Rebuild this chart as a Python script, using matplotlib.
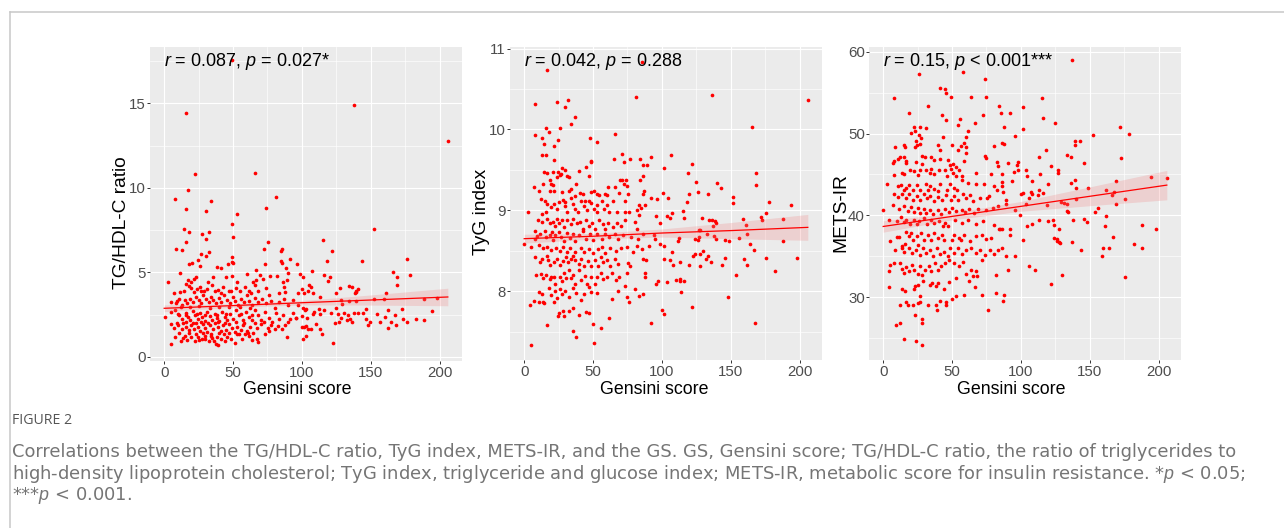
import numpy as np
import matplotlib
matplotlib.use('Agg')
import matplotlib.pyplot as plt
from matplotlib.transforms import blended_transform_factory
from matplotlib.lines import Line2D

# ---------------- data (Gensini score, marker value) ----------------
tg_hdl_pairs = [
    (16.2,14.43),(137.6,14.9),(206.3,12.75),(22.5,10.8),(65.8,10.87),(17.2,9.86),(8.2,9.33),(81.3,9.45),
    (34.1,9.23),(16.2,8.77),(30.2,8.62),(74.2,8.81),(53.2,8.46),(49.3,7.89),(18.1,7.37),(14.3,7.59),
    (32.2,7.37),(27.6,7.25),(50.3,7.1),(30.2,6.96),(152.4,7.59),(115.4,6.92),(16.2,6.78),(75.5,6.78),
    (8.5,6.36),(12.8,6.3),(72.3,6.4),(84.9,6.28),(85.4,6.36),(122,6.25),(32.2,6.19),(27.1,6.1),
    (30.2,5.97),(49.3,5.93),(73.2,5.47),(118.3,5.69),(143.4,5.67),(176.3,5.79),(49.1,5.63),(84.9,5.69),
    (91.2,5.79),(24.9,5.73),(18.1,5.49),(26.3,5.38),(20,5.53),(41.4,5.28),(38.4,5.3),(46.4,5.5),
    (50,5.57),(85.6,5.57),(96.3,5.47),(88.8,5.24),(166.4,5.0),(169.2,4.7),(169.2,4.27),(178.2,4.86),
    (107.1,5.1),(66.7,5.14),(98.7,4.88),(3.1,4.43),(48.9,17.55),
    (100.5,4.7),(49,4.78),(45.2,4.7),(60.4,4.9),(69.6,4.86),(82.1,4.78),(77,4.78),(35.5,4.72),(11.6,4.96),
    (17.1,4.53),(19.8,4.43),(21.7,4.59),(22.9,4.74),(32.1,4.43),(53.1,4.43),(64.3,4.43),(66.7,4.55),
    (71.5,4.59),(86.5,4.43),(88.9,4.57),(90.1,4.96),
    (7.2,3.8),(11.6,3.84),(14.5,3.88),(15.9,4.31),(17.9,4.19),(19.8,4.07),(21.7,3.84),(23.7,4.04),
    (26.1,4.15),(26.8,3.9),(29,3.88),(30.9,4.04),(34.5,4.27),(36.7,3.92),(39.4,3.98),(41.1,3.8),(43,4.15),
    (46.9,3.88),(48.8,3.88),(52.2,4.07),(55.1,3.88),(58.5,4.15),(61.4,3.92),(62.8,3.76),(66.2,4.27),
    (68.1,3.88),(73.7,4.07),(76.3,3.68),(83.1,3.76),(86.9,4.11),(87.4,3.84),(97.1,3.76),(99.8,4.04),(101.4,3.76),
    (4.8,3.25),(9.2,3.33),(8.7,3.17),(10.6,3.44),(12.6,3.09),(15,3.37),(16.9,3.17),(18.8,3.44),(20.8,3.25),
    (23.2,3.56),(25.1,3.37),(27.1,3.17),(28.5,3.64),(30.4,3.44),(32.4,3.25),(33.8,3.56),(35.7,3.37),
    (37.7,3.17),(39.6,3.48),(41.5,3.25),(43.5,3.64),(45.9,3.37),(47.8,3.17),(49.8,3.56),(51.7,3.29),
    (53.6,3.09),(56,3.44),(58,3.25),(59.9,3.68),(61.8,3.33),(63.8,3.09),(65.7,3.48),(68.1,3.25),(71,3.44),
    (73.9,3.17),(77.3,3.29),(80.7,2.89),(83.6,3.25),(87,3.44),(90.1,3.09),(93.7,3.37),(97.3,3.09),(100.5,2.89),
    (0.5,2.38),(5.3,2.66),(8.2,2.78),(11.1,2.5),(13,2.26),(15.5,2.62),(17.4,2.38),(18.8,2.15),(20.8,2.7),
    (22.2,2.46),(24.2,2.22),(26.1,2.58),(27.5,2.34),(29.5,2.11),(31.4,2.66),(33.3,2.42),(34.8,2.19),
    (36.7,2.54),(38.2,2.3),(40.1,2.11),(42,2.66),(44,2.38),(45.9,2.19),(47.8,2.54),(50.2,2.26),(52.2,2.78),
    (54.6,2.46),(57,2.19),(59.4,2.66),(61.4,2.34),(63.8,2.15),(65.7,2.74),(68.1,2.46),(70,2.15),(72.9,2.66),
    (76.3,2.3),(78.3,2.07),(81.2,2.58),(83.6,2.22),(86.5,2.46),(89.9,2.07),(93.7,2.62),(95.7,2.3),(100,2.42),
    (102.4,2.78),
    (4.8,1.95),(6.8,1.71),(10.1,1.87),(12.6,1.63),(14,1.99),(15.9,1.79),(17.9,1.56),(19.8,1.87),(21.3,1.67),
    (23.2,1.99),(24.6,1.79),(26.1,1.52),(28,1.95),(30,1.71),(31.4,1.48),(33.3,1.91),(35.3,1.63),(37.2,1.99),
    (39.1,1.75),(41.1,1.52),(43,1.87),(44.9,1.59),(46.9,1.95),(49.3,1.71),(51.2,1.44),(53.1,1.79),(55.6,1.56),
    (57.5,1.87),(59.9,1.52),(62.3,1.79),(64.7,1.4),(67.1,1.71),(70.5,1.95),(72.5,2.03),(75.4,1.71),(77.3,1.91),
    (80.2,1.67),(82.6,1.83),(85.5,1.67),(87.9,1.91),(91.3,2.26),(96.1,2.3),(100,1.75),(101.4,1.79),
    (7.7,1.16),(12.1,0.93),(15,1.24),(16.9,1.0),(19.3,1.16),(22.2,0.96),(24.6,1.2),(27.5,1.08),(29.5,1.24),
    (32.4,0.96),(34.3,1.24),(36.2,0.96),(38.2,1.2),(41.1,1.08),(43.5,1.32),(45.9,1.16),(48.8,1.08),(51.2,0.81),
    (54.1,1.32),(56.5,1.08),(58.9,1.36),(61.4,1.24),(63.8,1.0),(67.6,1.08),(68.1,0.85),(72.9,1.32),(75.8,1.52),
    (88.9,1.16),(100.5,1.08),(5.3,0.73),(39.1,0.69),(37.7,0.77),(30,1.04),
    (12,2.95),(19,2.92),(25,2.98),(33,2.9),(40,2.96),(47,2.92),(55,2.97),(62,2.9),
    (9,2.02),(16,2.05),(21,2.0),(27,2.06),(32,1.98),(39,2.04),(44,2.0),(52,2.05),(58,1.99),(66,2.02),
    (11,1.38),(18,1.42),(23,1.35),(28,1.4),(34,1.36),(40,1.42),(47,1.38),(53,1.35),(61,1.4),
    (14,1.1),(25,1.0),(35,1.12),(44,0.95),
    (10,2.52),(16,2.48),(24,2.55),(30,2.5),(38,2.45),(45,2.52),(56,2.55),(64,2.5),
    (105.3,4.27),(106.8,4.15),(104.3,3.88),(108.2,3.76),(116.4,4.86),(120.3,4.7),(119.3,4.51),(113.5,3.52),
    (102.9,2.85),(103.4,2.3),(108.7,2.66),(108.2,2.54),(112.6,2.81),(113,2.54),(116.4,2.78),(120.8,2.62),
    (102.9,1.83),(104.8,1.63),(106.8,1.67),(110.6,1.95),(113.5,1.67),(114.5,1.36),(102.9,1.24),(122.7,0.81),
    (123.7,1.99),(124.6,2.89),(125.1,3.8),(127.5,4.07),(128.5,3.37),(129.5,3.13),(126.6,2.54),(128.5,2.3),
    (127.1,2.07),(130.4,2.62),(132.8,2.15),(133.3,2.46),(134.8,2.26),(134.3,4.19),(136.7,4.15),(134.3,3.29),
    (136.2,2.07),(137.7,2.62),(138.6,3.76),(139.1,3.84),(139.6,3.92),(140.6,4.0),(139.6,3.33),(140.6,2.62),
    (144.4,2.62),(146.4,2.85),(146.4,2.22),(148.3,1.91),(149.3,2.03),(152.6,3.44),(154.6,2.54),(156.5,2.03),
    (159.4,3.44),(160.4,2.34),(161.3,3.8),(162.3,2.78),(162.3,1.71),(164.7,2.03),(167.6,2.46),(168.6,1.91),
    (172.5,2.85),(173.4,2.22),(176.3,2.03),(182.6,2.22),(188.4,3.41),(188.4,2.19),(194.7,2.7),(198.5,3.48),
]

tyg_pairs = [
    (16.9,10.73),(85.3,10.84),(8,10.31),(23.9,10.34),(30,10.28),(32.1,10.36),(36.7,10.15),(33.8,10.07),
    (80.9,10.4),(8,9.93),(15.5,10.02),(18.1,9.97),(25.8,10.02),(12.8,9.89),(14.3,9.82),(24.9,9.87),(22,9.8),
    (47.8,9.9),(53.1,9.84),(65.9,9.95),(13,9.68),(16,9.69),(21.3,9.62),(48.3,9.61),(48.8,9.6),(45.2,9.54),
    (65.2,9.64),(71.2,9.7),(72.7,9.6),(77,9.64),(84,9.64),(86,9.56),(88.9,9.56),(91.8,9.66),(101.4,9.53),
    (14.3,9.47),(16.4,9.46),(20.8,9.47),(24.2,9.47),(23.9,9.41),(26.1,9.44),(27.5,9.53),(27.1,9.45),(30,9.5),
    (31.4,9.43),(32.4,9.41),(40.1,9.49),(46.9,9.42),(14,9.32),(18.4,9.37),(19.3,9.33),(20.8,9.31),(18.4,9.24),
    (21.3,9.24),(27.3,9.23),(32.4,9.24),(34.3,9.27),(37.7,9.32),(40.6,9.22),(42.5,9.2),(37.2,9.18),(48.8,9.23),
    (50.7,9.24),(52.7,9.2),(54.6,9.19),(58.9,9.2),(60.9,9.29),(59.9,9.19),(66.2,9.29),(69.6,9.38),(71,9.38),
    (72.5,9.32),(73.9,9.38),(74.4,9.3),(68.6,9.22),(75.4,9.2),(73.4,9.12),(86,9.42),(84,9.38),(86.9,9.24),
    (86,9.2),(83.1,9.07),(87.9,9.07),(91.8,9.15),(96.6,9.14),(100.5,9.21),(6.8,9.29),(11.1,9.24),(12.1,9.14),
    (15,9.11),(16.9,9.08),(19.8,9.04),(21.3,9.08),(25.1,9.1),(23.7,9.02),(28,9.13),(30,9.1),(29.5,9.06),
    (30.9,8.98),(34.3,9.15),(35.7,9.08),(36.7,9.02),(39.1,8.98),(41.5,9.11),(43.5,9.05),(44.4,9.11),(45.4,9.0),
    (46.9,9.11),(48.8,9.09),(50.7,9.02),(53.1,9.07),(53.1,8.98),(56.5,9.11),(58,9.02),(60.4,9.07),(61.4,8.98),
    (64.7,9.11),(67.1,8.98),(73,8.98),(75.8,8.98),(82.1,9.0),(85,9.03),(2.9,8.98),(9.7,8.88),(13,8.96),
    (13,8.86),(15.5,8.98),(16.9,8.89),(18.8,8.84),(20.8,8.86),(22.2,8.81),(23.7,8.89),(25.6,8.84),(27.5,8.88),
    (29,8.8),(30.9,8.88),(33.8,8.83),(35.7,8.89),(38.2,8.84),(40.6,8.86),(42.5,8.77),(44.9,8.88),(46.9,8.81),
    (49.3,8.84),(51.7,8.77),(54.1,8.88),(57.5,8.83),(58.9,8.77),(60.9,8.84),(64.2,8.8),(67.6,8.84),(70.5,8.81),
    (73,8.88),(80.7,8.86),(82.1,8.77),(83.6,8.94),(96.1,8.93),(99,8.84),
    (7.7,8.74),(9.2,8.68),(8.2,8.64),(11.6,8.71),(15,8.74),(16,8.67),(18.4,8.69),(20.3,8.73),(20.8,8.63),
    (22.7,8.69),(25.6,8.73),(27.1,8.67),(29,8.62),(31.4,8.72),(33.3,8.66),(35.7,8.71),(37.2,8.62),(40.1,8.69),
    (43,8.74),(44.9,8.64),(47.8,8.71),(50.2,8.63),(53.1,8.71),(56.5,8.65),(58.5,8.71),(61.8,8.67),(65.7,8.71),
    (68.1,8.64),(72,8.69),(77.8,8.67),(82.6,8.64),(86.5,8.71),(94.2,8.69),(95.2,8.64),(101.4,8.56),
    (0,8.59),(4.8,8.55),(10.6,8.57),(14,8.53),(16.9,8.55),(19.8,8.51),(23.2,8.54),(26.1,8.5),(28.5,8.55),
    (30.9,8.49),(33.3,8.53),(37.2,8.49),(41.1,8.53),(43.5,8.49),(46.9,8.52),(49.8,8.47),(53.6,8.52),(56.5,8.55),
    (58.9,8.47),(62.3,8.53),(66.7,8.5),(70,8.54),(74.4,8.55),(78.7,8.49),(81.6,8.56),(85.5,8.52),(90.3,8.56),
    (99,8.58),(8.2,8.42),(11.6,8.36),(13,8.4),(16.4,8.44),(17.4,8.39),(18.8,8.33),(21.7,8.36),(23.7,8.4),
    (26.1,8.32),(28.5,8.37),(30.4,8.42),(31.9,8.36),(33.8,8.4),(35.3,8.44),(37.2,8.39),(39.6,8.34),(41.5,8.4),
    (43.5,8.31),(46.4,8.37),(48.8,8.31),(51.2,8.39),(53.6,8.31),(56,8.42),(57.5,8.36),(59.9,8.39),(62.3,8.31),
    (65.7,8.4),(68.1,8.34),(75.4,8.35),(76.8,8.31),(86.5,8.4),(88.4,8.39),(101.4,8.4),
    (8.7,8.2),(12.1,8.21),(14,8.17),(15.5,8.2),(18.4,8.15),(19.8,8.18),(21.7,8.18),(22.7,8.09),(26.1,8.18),
    (27.5,8.13),(29,8.22),(30.4,8.16),(32.4,8.26),(33.8,8.17),(35.7,8.2),(37.2,8.09),(39.6,8.26),(41.5,8.14),
    (44.4,8.19),(45.9,8.09),(48.8,8.18),(51.2,8.09),(53.1,8.18),(56,8.22),(57.5,8.15),(60.4,8.18),(63.8,8.22),
    (66.7,8.14),(68.6,8.18),(73.4,8.07),(74.9,8.22),(80.2,8.03),(87.4,8.22),(87.9,8.18),(96.1,8.09),(97.1,8.13),
    (10.6,7.99),(11.1,7.87),(13,7.97),(14.5,7.86),(17.9,8.04),(19.8,7.95),(22.2,8.0),(23.7,7.92),(26.1,8.03),
    (27.5,7.96),(30,8.0),(32.8,7.93),(35.7,8.04),(37.7,7.98),(41.1,7.89),(43.5,7.96),(46.9,8.05),(48.8,7.99),
    (53.1,7.98),(63.8,7.91),(68.1,8.0),(74.9,7.93),(75.8,7.87),(83.1,7.94),(86,7.96),(3.9,7.83),(7.2,7.88),
    (14,7.87),(21.7,7.87),(25.1,7.73),(28,7.75),(24.6,7.7),(29,7.69),(32.4,7.75),(35.7,7.79),(39.6,7.71),
    (44.9,7.74),(46.9,7.73),(50.2,7.6),(55.6,7.55),(61.8,7.67),(16.9,7.58),(35.7,7.51),(37.7,7.43),(50.7,7.36),
    (5.3,7.33),(92.3,7.61),(100,7.77),(101.4,7.72),
    (136.7,10.43),(205.8,10.36),(165.7,10.03),(106.8,9.68),(121.7,9.57),(118.8,9.46),(168.6,9.46),(168.6,9.31),
    (125.1,9.35),(140.1,9.34),(143,9.28),(119.8,9.2),(126.1,9.23),(133.8,9.2),(104.8,9.15),(117.9,9.1),
    (151.7,9.16),(151.7,9.09),(177.8,9.1),(193.7,9.07),(115,8.99),(107.7,8.97),(103.9,8.93),(105.8,8.91),
    (115.9,8.9),(129,8.9),(134.3,8.88),(136.7,8.88),(138.6,8.87),(139.6,8.85),(137.2,8.81),(158.9,8.89),
    (160.9,8.82),(172,8.92),(172.9,8.88),(175.8,8.97),(187.9,8.89),(127.1,8.76),(128,8.76),(132.8,8.71),
    (138.2,8.68),(139.1,8.65),(112.6,8.66),(111.6,8.62),(124.2,8.64),(126.1,8.63),(127.1,8.67),(145.9,8.63),
    (148.8,8.62),(156,8.66),(161.8,8.71),(163.8,8.59),(187.9,8.62),(107.7,8.49),(105.8,8.39),(108.2,8.32),
    (113,8.36),(119.8,8.33),(122.7,8.44),(124.2,8.46),(128,8.46),(129.9,8.5),(131.9,8.4),(133.8,8.44),
    (135.7,8.36),(128,8.31),(143.9,8.32),(145.9,8.41),(159.9,8.4),(161.8,8.32),(166.7,8.51),(175.8,8.41),
    (182.1,8.25),(198.1,8.41),(103.9,8.11),(110.1,8.14),(113,8.15),(113.5,8.13),(115.9,8.13),(114,7.99),
    (153.6,8.2),(147.8,7.93),(121.7,7.8),(167.6,7.61),
]

mets_ir_pairs = [
    (26.1,57.28),(58,57.6),(73.9,56.71),(41.1,55.57),(44.9,55.49),(45.9,54.92),(49.3,54.51),(8.2,54.35),
    (32.4,53.37),(63.8,54.51),(74.9,54.51),(84,53.37),(72.5,52.24),(85.5,52.48),(92.3,52.56),(18.8,52.48),
    (43,52.32),(45.4,51.67),(55.5,51.83),(54.6,51.1),(66.7,51.26),(87.9,50.77),(101.4,53.29),(101.9,50.61),
    (22.2,50.85),(23.2,50.28),(20.3,50.04),(27.1,50.85),(30.9,50.69),(26.1,49.88),(27.5,49.47),(23.7,49.15),
    (26.6,48.74),(61.3,50.37),(60.4,49.63),(43.5,49.55),(96.1,49.72),(86,48.9),(87.4,48.74),(80.7,48.5),
    (8.7,48.33),(15,48.58),(16,48.33),(23.2,48.41),(24.6,48.58),(39.6,48.58),(41.1,48.01),(50.2,48.66),
    (56.5,48.5),(58.5,48.9),(59.9,48.33),(59.9,47.6),(54.6,48.01),(12.1,47.19),(10.6,46.87),(8.2,46.63),
    (6.8,46.46),(16.9,46.63),(15,47.19),(16.4,46.38),(23.7,46.55),(28.5,47.28),(30.4,47.19),(28,46.3),
    (34.8,47.19),(36.7,46.79),(41.1,46.87),(47.3,46.79),(48.8,46.14),(50.7,46.3),(53.1,45.89),(58.5,46.71),
    (73.9,47.28),(74.9,47.03),(82.6,46.55),(83.6,45.98),(90.3,46.38),(97.1,46.14),(98.1,46.55),
    (7.7,44.92),(14,45.16),(15,45.0),(19.8,45.57),(22.7,45.41),(25.6,44.92),(27.1,45.49),(30.9,45.49),
    (34.8,45.73),(34.3,45.16),(36.7,45.0),(40.6,45.57),(44.9,45.49),(46.4,44.84),(49.3,45.73),(50.7,45.16),
    (53.1,44.76),(55.1,45.49),(57.5,44.76),(67.6,45.24),(78.2,45.08),(86,45.0),(86.5,44.11),(93.7,44.19),
    (95.2,45.33),(97.6,45.57),
    (2.9,43.78),(10.6,43.54),(13,43.7),(15,43.05),(16.4,43.37),(18.8,43.7),(21.3,43.13),(24.2,43.7),(26.6,43.05),
    (30.9,43.86),(32.4,43.05),(34.3,43.62),(37.2,43.21),(39.6,42.97),(41.5,43.86),(46.4,43.05),(48.8,43.86),
    (51.7,43.37),(53.6,43.05),(57.5,44.27),(61.3,43.94),(67.6,43.86),(73.4,43.86),(80.2,43.54),(82.6,43.05),
    (86,43.54),(86.9,42.89),(100,42.56),(101.9,42.72),
    (7.7,42.56),(10.6,42.24),(14,42.56),(16.4,42.07),(18.8,42.56),(21.3,41.91),(24.2,42.32),(26.6,41.83),
    (29.5,42.56),(31.9,42.07),(34.3,42.4),(37.2,41.75),(39.6,42.24),(42.5,41.91),(45.4,42.48),(49.3,41.83),
    (51.7,42.4),(54.6,41.83),(58,42.56),(59.9,42.07),(62.8,42.48),(65.2,41.75),(70,42.07),(75.4,42.07),
    (76.8,42.4),(88.9,41.91),(89.4,41.34),
    (0,40.69),(7.2,41.26),(11.6,40.77),(15,41.1),(17.9,40.53),(20.3,41.02),(22.2,40.45),(25.1,40.85),(27.1,40.28),
    (29.5,40.77),(31.4,40.28),(34.3,40.69),(36.2,40.12),(39.6,40.69),(42,40.12),(44.9,40.77),(47.8,40.37),
    (50.2,40.94),(53.1,40.53),(57,40.69),(59.4,40.45),(62.3,40.77),(66.2,40.28),(69.1,40.77),(74.4,40.61),
    (79.7,40.85),(83.1,41.18),(96.1,40.69),(99.5,40.04),
    (4.3,39.47),(10.1,39.31),(13,39.8),(15,39.15),(16.9,39.47),(19.3,38.98),(22.2,39.47),(24.2,38.9),(26.1,39.31),
    (29.5,39.63),(31.9,38.98),(34.8,39.47),(37.2,39.07),(40.6,39.31),(43.5,38.66),(44.9,39.07),(46.9,38.66),
    (52.2,39.47),(57.5,39.07),(61.8,39.47),(67.1,38.9),(72.5,39.31),(80.2,38.82),(84.5,38.33),(86,38.33),(91.8,38.33),
    (4.8,36.87),(10.1,37.36),(11.6,37.36),(13.5,36.22),(15.5,36.46),(16.9,38.01),(18.4,37.44),(20.3,37.85),
    (21.7,36.95),(24.2,37.52),(25.6,36.38),(27.5,37.85),(29.5,37.03),(32.4,37.6),(34.8,37.03),(37.2,37.85),
    (39.6,37.2),(42.5,37.6),(44.4,37.03),(49.8,37.03),(51.7,37.6),(55.1,37.28),(56.5,37.03),(58.5,37.6),
    (63.3,36.87),(67.6,37.44),(72,37.6),(74.9,37.11),(78.2,37.28),(84,38.33),(92.3,37.6),(101.9,37.03),
    (8.7,35.81),(13.5,35.98),(15,35.57),(18.8,36.06),(20.8,35.41),(23.7,35.81),(26.6,35.16),(29,35.98),
    (31.4,35.41),(34.3,35.73),(36.2,35.0),(39.1,35.98),(41.5,35.24),(44.4,35.57),(46.9,35.08),(48.8,36.06),
    (51.7,35.41),(54.1,35.98),(57,35.33),(59.9,35.73),(63.8,36.06),(67.1,35.41),(70.5,35.73),(73.9,35.16),
    (77.3,35.73),(80.7,35.24),(83.1,35.81),(86.5,36.06),(89.4,35.0),(96.1,35.0),
    (5.3,33.94),(8.2,34.11),(12.1,34.19),(14,33.45),(15,32.97),(16.9,33.62),(18.8,33.13),(20.8,33.94),
    (22.7,33.29),(25.1,32.8),(26.6,33.78),(28.5,32.64),(30.4,33.37),(33.3,33.78),(34.8,33.13),(37.7,34.19),
    (40.1,33.29),(42,33.78),(44.9,34.19),(47.8,34.59),(51.7,34.19),(55.1,33.78),(58,34.35),(59.9,32.8),
    (63.8,33.29),(65.2,32.56),(67.1,33.13),(68.1,32.56),(71.5,34.59),(82.1,32.72),(90.3,33.37),(3.9,33.13),
    (4.3,31.18),(14,30.94),(15.5,30.69),(22.2,30.94),(23.2,31.34),(25.1,31.5),(27.1,30.12),(29,31.91),
    (33.8,31.5),(35.7,31.75),(38.2,31.34),(39.6,31.75),(44,31.02),(47.8,31.83),(53.1,32.32),(62.3,32.0),(66.6,31.26),
    (12.1,28.98),(16.4,29.39),(17.9,29.07),(21.7,29.07),(25.1,29.31),(27.1,29.39),(32.4,29.07),(38.2,29.07),
    (39.1,28.41),(41.1,29.47),(45.4,29.39),(45.9,29.07),(49.8,29.8),(53.1,30.12),(58.5,30.28),(72,30.28),
    (82.1,30.45),(87.9,30.28),(86.9,29.47),(75.8,28.41),(23.2,27.77),(28,26.87),(28.5,27.36),(9.2,26.63),
    (12.1,26.79),(15,24.92),(23.7,24.68),(28,24.11),
    (137.2,58.98),(115,54.35),(116,51.91),(125.1,51.26),(172,50.77),(178.2,49.96),(152.2,49.88),(139.1,49.07),
    (139.1,48.66),(143,49.15),(117.9,48.01),(113,47.2),(133.8,47.36),(136.2,47.2),(172.9,47.03),(145.9,46.46),
    (121.7,46.06),(127.1,45.57),(127.1,45.24),(103.9,45.49),(104.8,44.84),(114,45.0),(108.2,44.19),(194.2,44.68),
    (206.3,44.51),(169.1,44.19),(136.2,43.94),(139.1,44.27),(119.8,43.86),(148.8,43.37),(140.1,43.29),(113,43.05),
    (116,42.72),(107.2,42.81),(112.6,42.48),(108.2,42.56),(161.8,43.05),(167.6,42.81),(166.2,42.48),(105.8,42.07),
    (175.8,41.99),(129,41.59),(131.4,41.5),(133.8,41.42),(140.1,41.99),(118.8,41.26),(103.4,41.34),(169.1,41.34),
    (156,40.94),(154.1,40.37),(133.3,40.53),(134.3,40.37),(161.8,39.88),(113,39.47),(119.8,39.31),(123.2,39.39),
    (138.2,39.39),(145.9,39.55),(147.8,39.23),(104.3,38.66),(108.2,38.9),(124.2,38.82),(128,38.33),(160.9,38.66),
    (187.9,38.82),(198.1,38.33),(124.2,37.28),(126.1,37.11),(126.1,36.87),(128,36.79),(128.5,36.63),(137.2,36.79),
    (167.1,37.36),(182.1,36.54),(144,35.81),(159.9,35.98),(164.2,35.98),(187.9,35.98),(158.9,35.0),(105.8,33.78),
    (110.1,33.29),(129.9,32.64),(121.7,31.59),(175.8,32.4),
]

# fitted regression line and 95% band at these Gensini scores
fit_x = [0, 50, 100, 150, 206]
tg_hdl_fit = [2.87, 3.03, 3.20, 3.36, 3.54]
tg_hdl_halfwidth = [0.20, 0.10, 0.13, 0.30, 0.52]
tyg_fit = [8.65, 8.68, 8.72, 8.75, 8.79]
tyg_halfwidth = [0.055, 0.035, 0.05, 0.10, 0.16]
mets_ir_fit = [38.64, 39.87, 41.10, 42.33, 43.70]
mets_ir_halfwidth = [0.70, 0.42, 0.60, 1.15, 1.80]

panel_ylabels = ["TG/HDL-C ratio", "TyG index", "METS-IR"]
panel_stats = [r"$r$ = 0.087, $p$ = 0.027*", r"$r$ = 0.042, $p$ = 0.288", r"$r$ = 0.15, $p$ < 0.001***"]
panel_ylims = [(-0.25, 18.34), (7.15, 11.02), (22.3, 60.6)]
panel_major = [[0, 5, 10, 15], [8, 9, 10, 11], [30, 40, 50, 60]]
panel_minor = [[2.5, 7.5, 12.5, 17.5], [7.5, 8.5, 9.5, 10.5], [25, 35, 45, 55]]
x_major = [0, 50, 100, 150, 200]
x_minor = [25, 75, 125, 175]
xlabel = "Gensini score"

caption_title = "FIGURE 2"
caption_lines = [
    "Correlations between the TG/HDL-C ratio, TyG index, METS-IR, and the GS. GS, Gensini score; TG/HDL-C ratio, the ratio of triglycerides to",
    "high-density lipoprotein cholesterol; TyG index, triglyceride and glucose index; METS-IR, metabolic score for insulin resistance. *$p$ < 0.05;",
    "***$p$ < 0.001.",
]

# ---------------- style ----------------
plt.rcParams['font.family'] = ['Liberation Sans', 'DejaVu Sans']
plt.rcParams['mathtext.fontset'] = 'custom'
plt.rcParams['mathtext.rm'] = 'Liberation Sans'
plt.rcParams['mathtext.it'] = 'Liberation Sans:italic'

W, H = 1284, 528
fig = plt.figure(figsize=(W / 100, H / 100), dpi=100)
fig.patch.set_facecolor('white')

def rect(l, r, t, b):
    return [l / W, 1 - b / H, (r - l) / W, (b - t) / H]

rects = [rect(150, 462, 47, 361), rect(510, 822, 47, 360), rect(869, 1181, 47, 360)]
ylab_pos = [(-0.091, 0.44), (-0.092, 0.473), (-0.089, 0.471)]
xlab_pos = [(0.471, -0.092), (0.462, -0.093), (0.455, -0.093)]

all_pairs = [tg_hdl_pairs, tyg_pairs, mets_ir_pairs]
all_fits = [(tg_hdl_fit, tg_hdl_halfwidth), (tyg_fit, tyg_halfwidth), (mets_ir_fit, mets_ir_halfwidth)]
for i, pairs in enumerate(all_pairs):
    arr = np.array(pairs, dtype=float)
    x, y = arr[:, 0], arr[:, 1]
    ax = fig.add_axes(rects[i])
    ax.set_facecolor('#EBEBEB')
    for s in ax.spines.values():
        s.set_visible(False)
    ax.set_xlim(-10.3, 216.3)
    ax.set_ylim(*panel_ylims[i])
    ax.set_xticks(x_major)
    ax.set_xticks(x_minor, minor=True)
    ax.set_yticks(panel_major[i])
    ax.set_yticks(panel_minor[i], minor=True)
    ax.grid(True, which='major', color='white', lw=0.85, zorder=0)
    ax.grid(True, which='minor', color='white', lw=0.45, zorder=0)
    ax.set_axisbelow(True)
    ax.tick_params(which='minor', length=0)
    ax.tick_params(axis='both', which='major', length=2.2, width=0.7, color='#333333',
                   labelcolor='#4D4D4D', labelsize=10.8)
    ax.tick_params(axis='x', pad=1.6)
    ax.tick_params(axis='y', pad=0.8)

    ax.scatter(x, y, s=7, color='#FF0000', linewidths=0, zorder=2)
    fy = np.array(all_fits[i][0])
    hw = np.array(all_fits[i][1])
    ax.fill_between(fit_x, fy - hw, fy + hw, color='#F08080', alpha=0.25, linewidth=0, zorder=3)
    ax.plot(fit_x, fy, color='#FF0000', lw=0.9, zorder=4)

    tr = blended_transform_factory(ax.transData, ax.transAxes)
    ax.text(0, 0.953, panel_stats[i], transform=tr, fontsize=13.0, color='black',
            ha='left', va='center', zorder=5)

    ax.set_ylabel(panel_ylabels[i], fontsize=13.8, color='black')
    ax.yaxis.set_label_coords(*ylab_pos[i])
    ax.yaxis.label.set_va('center')
    ax.set_xlabel(xlabel, fontsize=12.8, color='black')
    ax.xaxis.set_label_coords(*xlab_pos[i])
    ax.xaxis.label.set_va('center')

# page frame
fig.add_artist(Line2D([9.5 / W, 1.0], [1 - 11.5 / H, 1 - 11.5 / H], transform=fig.transFigure,
                      color='#C8C8C8', lw=1.1))
fig.add_artist(Line2D([9.5 / W, 9.5 / W], [1 - 11.5 / H, 0.0], transform=fig.transFigure,
                      color='#C8C8C8', lw=1.1))

# caption
fig.text(12 / W, 1 - 420 / H, caption_title, fontsize=10.2, color='#555555',
         family=['Open Sans', 'DejaVu Sans'], ha='left', va='center')
for k, line in enumerate(caption_lines):
    fig.text(12 / W, 1 - (452 + 22 * k) / H, line, fontsize=12.9, color='#757575',
             family=['DejaVu Sans'], ha='left', va='center')

fig.savefig('out.png', dpi=100, facecolor='white')
